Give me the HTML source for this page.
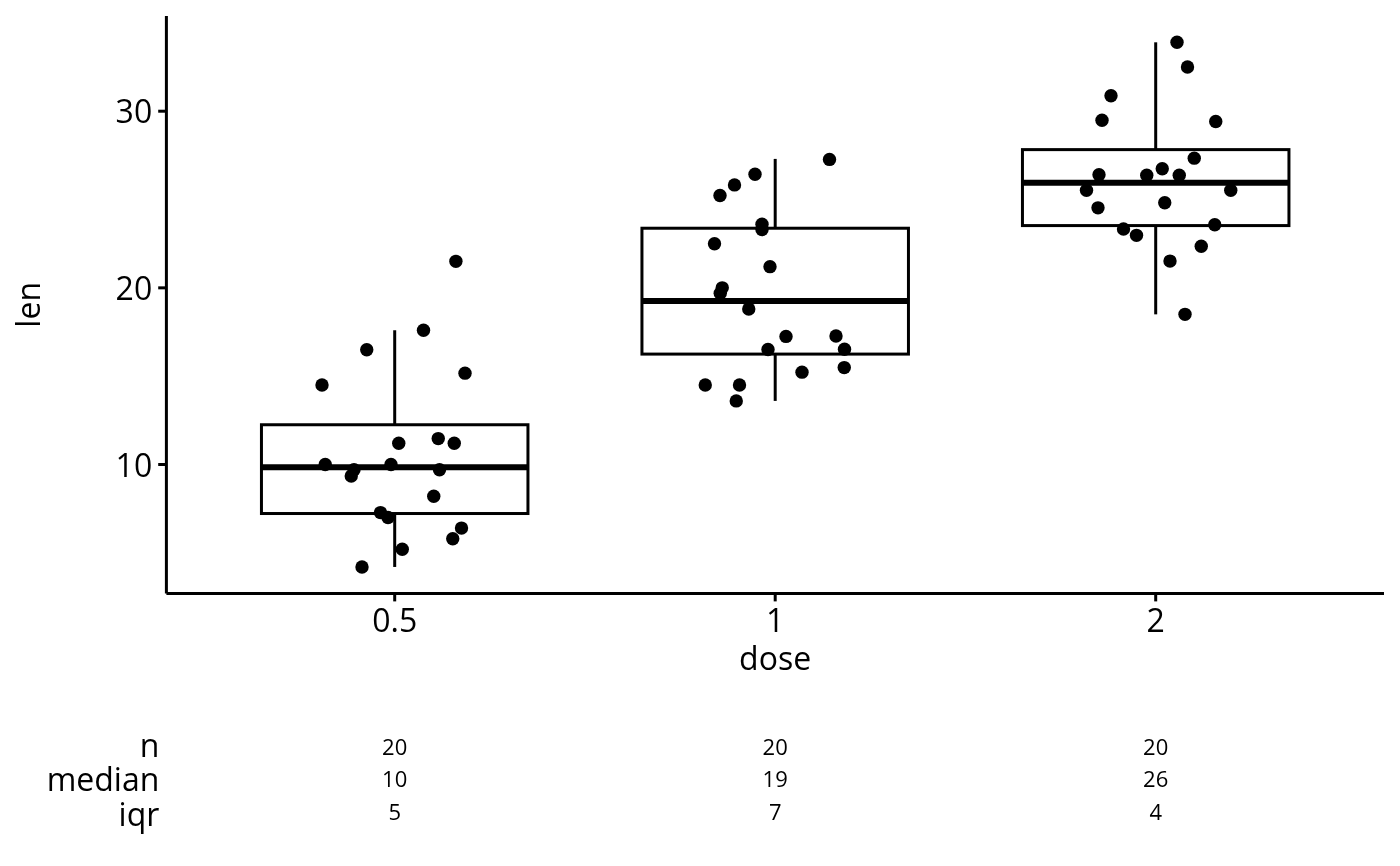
<!DOCTYPE html>
<html lang="en">
<head>
<meta charset="utf-8">
<title>len by dose</title>
<style>
html,body{margin:0;padding:0;background:#fff;}
body{width:1400px;height:866px;overflow:hidden;}
svg{display:block;}
text{font-family:"Open Sans","Liberation Sans",sans-serif;fill:#000;}
.ax{font-size:32px;}
.tb{font-size:22px;}
.dg{font-size-adjust:cap-height 0.7139;}
.lc{font-size-adjust:ex-height 0.5352;}
</style>
</head>
<body>
<svg width="1400" height="866" viewBox="0 0 1400 866">
<rect x="0" y="0" width="1400" height="866" fill="#fff"/>
<g fill="none" stroke="#000" stroke-width="3.0" stroke-linecap="butt" stroke-linejoin="miter">
<line x1="394.7" y1="330.25" x2="394.7" y2="424.75"/>
<line x1="394.7" y1="513.52" x2="394.7" y2="566.96"/>
<rect x="261.45" y="424.75" width="266.50" height="88.77" fill="#fff"/>
<line x1="261.45" y1="467.15" x2="527.95" y2="467.15" stroke-width="6.0"/>
<line x1="775.2" y1="158.90" x2="775.2" y2="228.23"/>
<line x1="775.2" y1="354.09" x2="775.2" y2="400.91"/>
<rect x="641.95" y="228.23" width="266.50" height="125.86" fill="#fff"/>
<line x1="641.95" y1="301.10" x2="908.45" y2="301.10" stroke-width="6.0"/>
<line x1="1155.7" y1="42.31" x2="1155.7" y2="149.62"/>
<line x1="1155.7" y1="225.58" x2="1155.7" y2="314.35"/>
<rect x="1022.45" y="149.62" width="266.50" height="75.96" fill="#fff"/>
<line x1="1022.45" y1="182.74" x2="1288.95" y2="182.74" stroke-width="6.0"/>
</g>
<g fill="#000">
<circle cx="455.9" cy="261.35" r="6.7"/>
<circle cx="423.5" cy="330.25" r="6.7"/>
<circle cx="366.75" cy="349.68" r="6.7"/>
<circle cx="465" cy="373.14" r="6.7"/>
<circle cx="322" cy="385.01" r="6.7"/>
<circle cx="398.75" cy="443.30" r="6.7"/>
<circle cx="438.25" cy="438.60" r="6.7"/>
<circle cx="454.25" cy="443.30" r="6.7"/>
<circle cx="325.25" cy="464.50" r="6.7"/>
<circle cx="354" cy="469.80" r="6.7"/>
<circle cx="351.25" cy="476.10" r="6.7"/>
<circle cx="391" cy="464.50" r="6.7"/>
<circle cx="439.5" cy="469.80" r="6.7"/>
<circle cx="433.75" cy="496.30" r="6.7"/>
<circle cx="380.5" cy="512.60" r="6.7"/>
<circle cx="388" cy="517.50" r="6.7"/>
<circle cx="461.5" cy="528.09" r="6.7"/>
<circle cx="452.75" cy="538.69" r="6.7"/>
<circle cx="402.25" cy="549.29" r="6.7"/>
<circle cx="362" cy="566.96" r="6.7"/>
<circle cx="829.5" cy="159.40" r="6.7"/>
<circle cx="755" cy="174.29" r="6.7"/>
<circle cx="734.5" cy="184.89" r="6.7"/>
<circle cx="720" cy="195.49" r="6.7"/>
<circle cx="762" cy="224.26" r="6.7"/>
<circle cx="762" cy="229.56" r="6.7"/>
<circle cx="714.5" cy="243.69" r="6.7"/>
<circle cx="770" cy="266.65" r="6.7"/>
<circle cx="722.25" cy="287.85" r="6.7"/>
<circle cx="720.25" cy="293.15" r="6.7"/>
<circle cx="748.75" cy="309.05" r="6.7"/>
<circle cx="786" cy="336.40" r="6.7"/>
<circle cx="836" cy="336.05" r="6.7"/>
<circle cx="768" cy="349.43" r="6.7"/>
<circle cx="844.5" cy="349.18" r="6.7"/>
<circle cx="844.25" cy="367.59" r="6.7"/>
<circle cx="802" cy="372.14" r="6.7"/>
<circle cx="705.25" cy="385.01" r="6.7"/>
<circle cx="739.5" cy="385.01" r="6.7"/>
<circle cx="736.25" cy="400.91" r="6.7"/>
<circle cx="1177" cy="42.31" r="6.7"/>
<circle cx="1187.5" cy="67.04" r="6.7"/>
<circle cx="1111" cy="95.80" r="6.7"/>
<circle cx="1102" cy="120.28" r="6.7"/>
<circle cx="1215.75" cy="121.55" r="6.7"/>
<circle cx="1194.25" cy="158.15" r="6.7"/>
<circle cx="1162.25" cy="168.74" r="6.7"/>
<circle cx="1099" cy="174.79" r="6.7"/>
<circle cx="1146.75" cy="175.29" r="6.7"/>
<circle cx="1179.25" cy="175.29" r="6.7"/>
<circle cx="1086.5" cy="190.19" r="6.7"/>
<circle cx="1230.75" cy="190.29" r="6.7"/>
<circle cx="1164.75" cy="202.81" r="6.7"/>
<circle cx="1098" cy="207.86" r="6.7"/>
<circle cx="1214.75" cy="224.76" r="6.7"/>
<circle cx="1123.5" cy="229.06" r="6.7"/>
<circle cx="1136.5" cy="235.36" r="6.7"/>
<circle cx="1201.25" cy="246.20" r="6.7"/>
<circle cx="1170" cy="261.10" r="6.7"/>
<circle cx="1185" cy="314.35" r="6.7"/>
</g>
<g fill="none" stroke="#000" stroke-width="3.0" stroke-linecap="butt">
<line x1="166.4" y1="15.9" x2="166.4" y2="593.4"/>
<line x1="166.4" y1="593.4" x2="1384.0" y2="593.4"/>
<line x1="158.2" y1="464.50" x2="166.4" y2="464.50"/>
<line x1="158.2" y1="287.85" x2="166.4" y2="287.85"/>
<line x1="158.2" y1="111.20" x2="166.4" y2="111.20"/>
<line x1="394.7" y1="593.4" x2="394.7" y2="601.4"/>
<line x1="775.2" y1="593.4" x2="775.2" y2="601.4"/>
<line x1="1155.7" y1="593.4" x2="1155.7" y2="601.4"/>
</g>
<text class="ax dg" x="152.2" y="477" text-anchor="end" textLength="36.594" lengthAdjust="spacingAndGlyphs">10</text>
<text class="ax dg" x="152.2" y="300" text-anchor="end" textLength="36.594" lengthAdjust="spacingAndGlyphs">20</text>
<text class="ax dg" x="152.2" y="123" text-anchor="end" textLength="36.594" lengthAdjust="spacingAndGlyphs">30</text>
<text class="ax dg" x="394.7" y="632" text-anchor="middle" textLength="45.0" lengthAdjust="spacingAndGlyphs">0.5</text>
<text class="ax dg" x="775.2" y="632" text-anchor="middle" textLength="18.297" lengthAdjust="spacingAndGlyphs">1</text>
<text class="ax dg" x="1155.7" y="632" text-anchor="middle" textLength="18.297" lengthAdjust="spacingAndGlyphs">2</text>
<text class="ax lc" x="775.1" y="670" text-anchor="middle" textLength="72.047" lengthAdjust="spacingAndGlyphs">dose</text>
<text class="ax lc" transform="translate(39.8,304.8) rotate(-90)" text-anchor="middle" textLength="45.672" lengthAdjust="spacingAndGlyphs">len</text>
<text class="ax lc" x="159.3" y="757" text-anchor="end" textLength="19.625" lengthAdjust="spacingAndGlyphs">n</text>
<text class="ax lc" x="159.3" y="791" text-anchor="end" textLength="112.656" lengthAdjust="spacingAndGlyphs">median</text>
<text class="ax lc" x="159.3" y="826" text-anchor="end" textLength="40.734" lengthAdjust="spacingAndGlyphs">iqr</text>
<text class="tb dg" x="394.7" y="755" text-anchor="middle" textLength="25.172" lengthAdjust="spacingAndGlyphs">20</text>
<text class="tb dg" x="775.2" y="755" text-anchor="middle" textLength="25.172" lengthAdjust="spacingAndGlyphs">20</text>
<text class="tb dg" x="1155.7" y="755" text-anchor="middle" textLength="25.172" lengthAdjust="spacingAndGlyphs">20</text>
<text class="tb dg" x="394.7" y="787" text-anchor="middle" textLength="25.172" lengthAdjust="spacingAndGlyphs">10</text>
<text class="tb dg" x="775.2" y="787" text-anchor="middle" textLength="25.172" lengthAdjust="spacingAndGlyphs">19</text>
<text class="tb dg" x="1155.7" y="787" text-anchor="middle" textLength="25.172" lengthAdjust="spacingAndGlyphs">26</text>
<text class="tb dg" x="394.7" y="820" text-anchor="middle" textLength="12.594" lengthAdjust="spacingAndGlyphs">5</text>
<text class="tb dg" x="775.2" y="820" text-anchor="middle" textLength="12.594" lengthAdjust="spacingAndGlyphs">7</text>
<text class="tb dg" x="1155.7" y="820" text-anchor="middle" textLength="12.594" lengthAdjust="spacingAndGlyphs">4</text>
</svg>
</body>
</html>
